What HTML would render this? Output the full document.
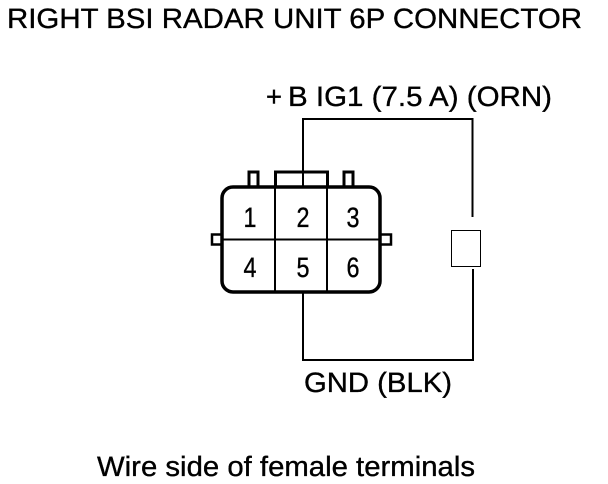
<!DOCTYPE html>
<html>
<head>
<meta charset="utf-8">
<style>
html,body{margin:0;padding:0;background:#fff;width:608px;height:484px;overflow:hidden}
svg{display:block}
text{font-family:"Liberation Sans",Arial,sans-serif;fill:#000;stroke:#000;stroke-width:.35;text-rendering:geometricPrecision}
</style>
</head>
<body>
<svg width="608" height="484" viewBox="0 0 608 484" xmlns="http://www.w3.org/2000/svg">
<text x="7" y="28" font-size="28" textLength="575" lengthAdjust="spacingAndGlyphs">RIGHT BSI RADAR UNIT 6P CONNECTOR</text>
<text x="266" y="106" font-size="28" textLength="16" lengthAdjust="spacingAndGlyphs">+</text>
<text x="288" y="106" font-size="28" textLength="264" lengthAdjust="spacingAndGlyphs">B IG1 (7.5 A) (ORN)</text>
<text x="304" y="392" font-size="28" textLength="148" lengthAdjust="spacingAndGlyphs">GND (BLK)</text>
<text x="97" y="476" font-size="28" textLength="378" lengthAdjust="spacingAndGlyphs">Wire side of female terminals</text>
<g fill="#fff" stroke="#000" stroke-width="3">
<rect x="249" y="172" width="9" height="16"/>
<rect x="344" y="172" width="9" height="16"/>
<rect x="275.500" y="172" width="52" height="16"/>
</g>
<g fill="#fff" stroke="#000" stroke-width="2.500">
<rect x="212" y="234.500" width="11" height="10"/>
<rect x="380" y="234.500" width="11" height="10"/>
</g>
<rect x="222" y="187" width="158" height="105" rx="11" ry="11" fill="#fff" stroke="#000" stroke-width="3.500"/>
<g stroke="#000" fill="none" stroke-width="2">
<path d="M222 239.500H380M275 187V292M327 187V292"/>
<path d="M303 187V119H472.500V217"/>
<path d="M303 293V360H473V269"/>
</g>
<rect x="451.500" y="230.500" width="29" height="36" fill="#fff" stroke="#000" stroke-width="1"/>
<g font-size="28">
<text x="243.500" y="227" textLength="13" lengthAdjust="spacingAndGlyphs">1</text>
<text x="296.500" y="227" textLength="13" lengthAdjust="spacingAndGlyphs">2</text>
<text x="346.500" y="227" textLength="13" lengthAdjust="spacingAndGlyphs">3</text>
<text x="243.500" y="277" textLength="13" lengthAdjust="spacingAndGlyphs">4</text>
<text x="296.500" y="277" textLength="13" lengthAdjust="spacingAndGlyphs">5</text>
<text x="346.500" y="277" textLength="13" lengthAdjust="spacingAndGlyphs">6</text>
</g>
</svg>
</body>
</html>
